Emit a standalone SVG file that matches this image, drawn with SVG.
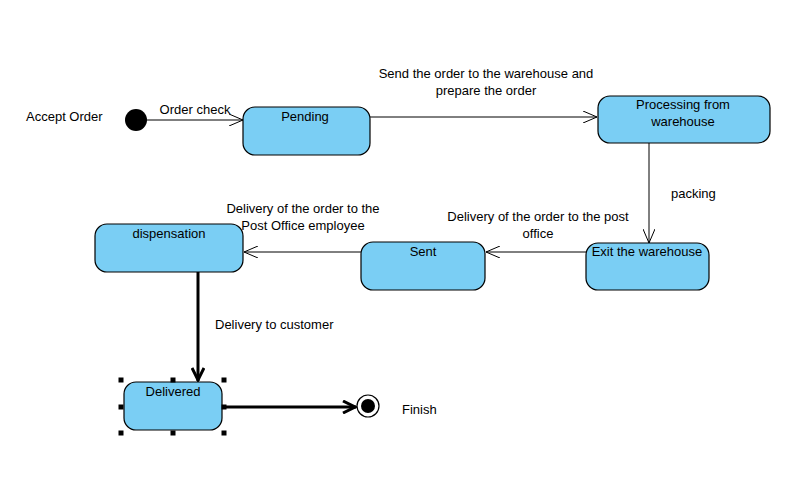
<svg xmlns="http://www.w3.org/2000/svg" width="789" height="498" viewBox="0 0 789 498">
<style>
.st{fill:#7acef4;stroke:#000;stroke-width:1.2}
text{font-family:"Liberation Sans",Arial,sans-serif;font-size:13px;fill:#000}
.c{text-anchor:middle}
.ln{fill:none;stroke:#000;stroke-width:1}
.tk{fill:none;stroke:#000;stroke-width:3}
.h{fill:#000}
</style>
<defs>
<marker id="a" markerWidth="16" markerHeight="12" refX="14" refY="6" orient="auto" markerUnits="userSpaceOnUse"><path d="M0,0 L14,6 L0,12" fill="none" stroke="#000" stroke-width="1"/></marker>
<marker id="b" markerWidth="16" markerHeight="14" refX="14" refY="7" orient="auto" markerUnits="userSpaceOnUse"><path d="M1,1 L13,7 L1,13" fill="none" stroke="#000" stroke-width="3"/></marker>
</defs>
<rect width="789" height="498" fill="#fff"/>
<g id="connectors">
<line class="ln" x1="147" y1="120" x2="243" y2="120" marker-end="url(#a)"/>
<line class="ln" x1="370" y1="117" x2="597" y2="117" marker-end="url(#a)"/>
<line class="ln" x1="649" y1="143" x2="649" y2="243" marker-end="url(#a)"/>
<line class="ln" x1="586" y1="252" x2="486" y2="252" marker-end="url(#a)"/>
<line class="ln" x1="361" y1="252" x2="244" y2="252" marker-end="url(#a)"/>
<line class="tk" x1="198" y1="272" x2="198" y2="381" marker-end="url(#b)"/>
<line class="tk" x1="222" y1="407" x2="356" y2="407" marker-end="url(#b)"/>
<text x="195" y="114" class="c">Order check</text>
<text x="486" y="78" class="c">Send the order to the warehouse and</text>
<text x="486" y="95" class="c">prepare the order</text>
<text x="671" y="198">packing</text>
<text x="538" y="221" class="c">Delivery of the order to the post</text>
<text x="538" y="238" class="c">office</text>
<text x="303" y="213" class="c">Delivery of the order to the</text>
<text x="303" y="230" class="c">Post Office employee</text>
<text x="215" y="329">Delivery to customer</text>
</g>
<g id="initial">
<circle cx="136" cy="120" r="11" fill="#000"/>
<text x="26" y="121">Accept Order</text>
</g>
<g id="pending">
<rect class="st" x="243" y="107" width="127" height="48" rx="12"/>
<text x="305" y="121" class="c">Pending</text>
</g>
<g id="processing">
<rect class="st" x="598" y="96" width="172" height="47" rx="12"/>
<text x="683" y="109" class="c">Processing from</text>
<text x="683" y="126" class="c">warehouse</text>
</g>
<g id="exit">
<rect class="st" x="586" y="243" width="123" height="47" rx="12"/>
<text x="647" y="256" class="c">Exit the warehouse</text>
</g>
<g id="sent">
<rect class="st" x="361" y="242" width="124" height="48" rx="12"/>
<text x="423" y="256" class="c">Sent</text>
</g>
<g id="dispensation">
<rect class="st" x="95" y="224" width="148" height="48" rx="12"/>
<text x="169" y="238" class="c">dispensation</text>
</g>
<g id="delivered">
<rect class="st" x="124" y="382" width="98" height="48" rx="12"/>
<text x="173" y="396" class="c">Delivered</text>
<rect class="h" x="118.5" y="377.5" width="5" height="5"/>
<rect class="h" x="170.5" y="377.5" width="5" height="5"/>
<rect class="h" x="221.5" y="377.5" width="5" height="5"/>
<rect class="h" x="118.5" y="404.5" width="5" height="5"/>
<rect class="h" x="221.5" y="404.5" width="5" height="5"/>
<rect class="h" x="118.5" y="430.5" width="5" height="5"/>
<rect class="h" x="170.5" y="430.5" width="5" height="5"/>
<rect class="h" x="221.5" y="430.5" width="5" height="5"/>
</g>
<g id="final">
<circle cx="368" cy="406" r="11" fill="#fff" stroke="#000" stroke-width="1.2"/>
<circle cx="368" cy="406" r="7" fill="#000"/>
<text x="402" y="414">Finish</text>
</g>
</svg>
